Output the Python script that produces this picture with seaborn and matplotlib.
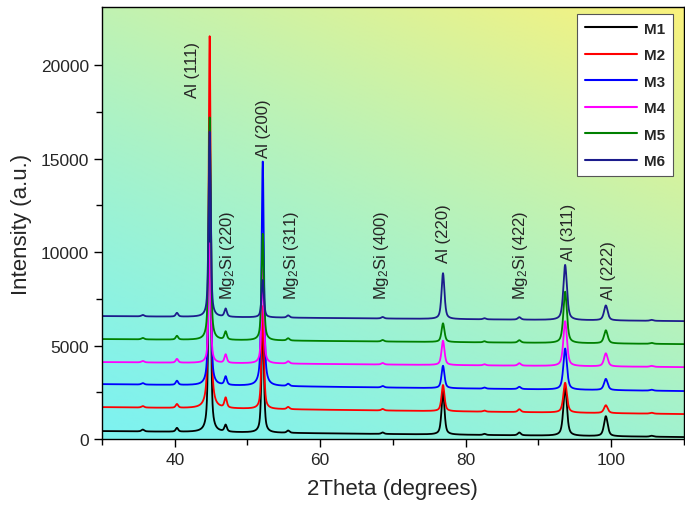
import numpy as np
import pandas as pd
import matplotlib
matplotlib.use("Agg")
import matplotlib.pyplot as plt
import seaborn as sns

# ---- data ----
samples = ["M1", "M2", "M3", "M4", "M5", "M6"]
colors = ["#000000", "#ff0000", "#0000ff", "#ff00ff", "#008000", "#1c1c8c"]

# baseline level at 30 deg and at 110 deg (offset stacking)
base_left = [430, 1710, 2940, 4120, 5350, 6580]
base_right = [110, 1340, 2570, 3850, 5080, 6310]

# peak centres (2theta) and widths (FWHM, deg)
peak_pos = [35.6, 40.3, 44.8, 47.0, 52.1, 55.6, 68.6, 76.9, 82.6, 87.4, 93.7, 99.3, 105.6]
peak_fwhm = [0.45, 0.4, 0.34, 0.4, 0.38, 0.45, 0.45, 0.48, 0.45, 0.5, 0.58, 0.6, 0.55]

# net peak heights per sample
peak_h = {
    "M1": [100, 200, 15000, 360, 6000, 120, 80, 2300, 60, 150, 2600, 1070, 50],
    "M2": [80, 200, 19900, 530, 5500, 120, 80, 1400, 60, 150, 1600, 420, 50],
    "M3": [80, 220, 12800, 450, 12000, 120, 80, 1200, 60, 120, 2200, 600, 50],
    "M4": [80, 200, 6400, 450, 5000, 120, 80, 1300, 60, 130, 2400, 700, 50],
    "M5": [80, 200, 11900, 430, 5700, 120, 80, 1000, 60, 130, 2750, 700, 50],
    "M6": [80, 200, 9900, 430, 2000, 120, 80, 2450, 60, 130, 2950, 800, 50],
}

labels = ["Al (111)", "Mg$_2$Si (220)", "Al (200)", "Mg$_2$Si (311)", "Mg$_2$Si (400)",
          "Al (220)", "Mg$_2$Si (422)", "Al (311)", "Al (222)"]
label_x = [42.4, 47.3, 52.2, 56.0, 68.5, 77.0, 87.5, 94.1, 99.6]
label_y = [18300, 7500, 15100, 7500, 7500, 9450, 7500, 9600, 7500]


def pv(x, c, h, w, eta=0.6):
    g = np.exp(-4 * np.log(2) * ((x - c) / w) ** 2)
    l = 1.0 / (1 + 4 * ((x - c) / w) ** 2)
    return h * (eta * l + (1 - eta) * g)


x = np.arange(30, 110.001, 0.02)
rows = []
for i, s in enumerate(samples):
    y = base_left[i] + (base_right[i] - base_left[i]) * (x - 30) / 80
    for c, w, h in zip(peak_pos, peak_fwhm, peak_h[s]):
        y = y + pv(x, c, h, w)
    rows.append(pd.DataFrame({"2theta": x, "I": y, "sample": s}))
df = pd.concat(rows, ignore_index=True)

# ---- plot ----
sns.set_style("ticks")
plt.rcParams["font.family"] = ["Liberation Sans", "DejaVu Sans"]
plt.rcParams["mathtext.fontset"] = "custom"
plt.rcParams["mathtext.rm"] = "Liberation Sans"
plt.rcParams["mathtext.it"] = "Liberation Sans:italic"

fig = plt.figure(figsize=(6.85, 5.1), dpi=100)
ax = fig.add_axes([0.149, 0.137, 0.849, 0.847])

xmin, xmax, ymin, ymax = 30, 110, 0, 23100

# background gradient cyan (bottom) -> yellow (top right)
bl = np.array([126, 242, 240]) / 255
tr = np.array([250, 242, 124]) / 255
u, v = np.meshgrid(np.linspace(0, 1, 200), np.linspace(0, 1, 200))
t = ((0.62 * v + 0.38 * u) ** 1.3)[..., None]
ax.imshow(bl * (1 - t) + tr * t, extent=[xmin, xmax, ymin, ymax], origin="lower",
          aspect="auto", zorder=0, interpolation="bilinear")

sns.lineplot(data=df, x="2theta", y="I", hue="sample", palette=colors,
             estimator=None, sort=False, linewidth=1.3, ax=ax, zorder=2)

for txt, lx, ly in zip(labels, label_x, label_y):
    ax.text(lx, ly, txt, rotation=90, ha="center", va="bottom", fontsize=12, zorder=3)

ax.set_xlim(xmin, xmax)
ax.set_ylim(ymin, ymax)
ax.set_xticks([40, 60, 80, 100])
ax.set_xticks([30, 50, 70, 90, 110], minor=True)
ax.set_yticks([0, 5000, 10000, 15000, 20000])
ax.set_yticks([2500, 7500, 12500, 17500], minor=True)
ax.tick_params(which="major", direction="out", length=6, width=1, labelsize=12.5, color="black")
ax.tick_params(which="minor", direction="out", length=4, width=1, color="black")
for sp in ax.spines.values():
    sp.set_color("black")
    sp.set_linewidth(1)

ax.set_xlabel("2Theta (degrees)", fontsize=16, labelpad=8)
ax.set_ylabel("Intensity (a.u.)", fontsize=16, labelpad=6)

handles, labs = ax.get_legend_handles_labels()
for h in handles:
    h.set_linewidth(1.5)
leg = ax.legend(handles, labs, loc="upper right", bbox_to_anchor=(0.99, 0.995),
                prop={"weight": "bold", "size": 11}, frameon=True, fancybox=False,
                framealpha=1, edgecolor="#555555", handlelength=3.4, handletextpad=0.5,
                labelspacing=0.82, borderpad=0.5, borderaxespad=0.3)
leg.get_frame().set_linewidth(0.8)
leg.set_zorder(5)

fig.savefig("out.png", dpi=100)
